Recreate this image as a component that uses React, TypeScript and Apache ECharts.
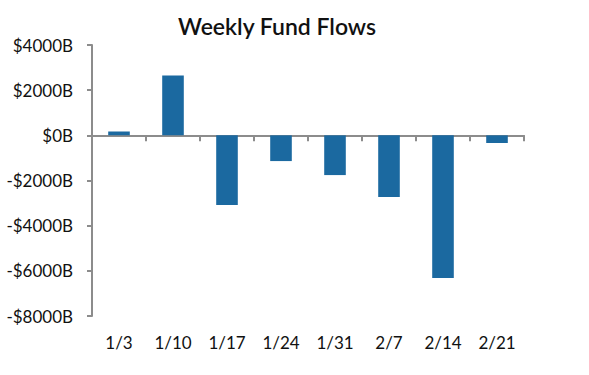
import React, { useEffect, useRef } from "react";
import * as echarts from "echarts";

const categories = ["1/3", "1/10", "1/17", "1/24", "1/31", "2/7", "2/14", "2/21"];
const flows = [170, 2650, -3090, -1140, -1760, -2730, -6320, -340];
const yMin = -8000;
const yMax = 4000;
const yStep = 2000;

export default function App() {
  const ref = useRef<HTMLDivElement>(null);
  useEffect(() => {
    document.body.style.margin = "0";
    if (!ref.current) return;
    const chart = echarts.init(ref.current, null, { renderer: "svg" });
    const axisColor = "#8c8c8c";
    chart.setOption({
      animation: false,
      backgroundColor: "#ffffff",
      title: {
        text: "Weekly Fund Flows",
        left: 272,
        textAlign: "center",
        top: 9,
        textStyle: { fontFamily: "Lato", fontSize: 23, fontWeight: 600, color: "#111111" },
      },
      grid: { left: 92, right: 65, top: 45, bottom: 59, containLabel: false },
      xAxis: [
        {
          type: "category",
          data: categories,
          axisLine: { onZero: true, lineStyle: { color: axisColor, width: 2 } },
          axisTick: { show: true, length: 6, lineStyle: { color: axisColor, width: 2 } },
          axisLabel: { show: false },
        },
        {
          type: "category",
          data: categories,
          position: "bottom",
          axisLine: { show: false, onZero: false },
          axisTick: { show: false },
          axisLabel: {
            interval: 0,
            fontFamily: "Lato",
            fontSize: 17,
            color: "#111111",
            margin: 18,
          },
        },
      ],
      yAxis: {
        type: "value",
        min: yMin,
        max: yMax,
        interval: yStep,
        splitLine: { show: false },
        axisLine: { show: true, lineStyle: { color: axisColor, width: 2 } },
        axisTick: { show: true, length: 5, lineStyle: { color: axisColor, width: 2 } },
        axisLabel: {
          fontFamily: "Lato",
          fontSize: 17,
          color: "#111111",
          margin: 19,
          formatter: (v: number) => (v < 0 ? "-$" + Math.abs(v) + "B" : "$" + v + "B"),
        },
      },
      series: [
        {
          type: "bar",
          xAxisIndex: 0,
          data: flows,
          barWidth: "40%",
          itemStyle: { color: "#1b69a0" },
        },
      ],
    });
    return () => chart.dispose();
  }, []);
  return <div ref={ref} style={{ width: 589, height: 375 }} />;
}
